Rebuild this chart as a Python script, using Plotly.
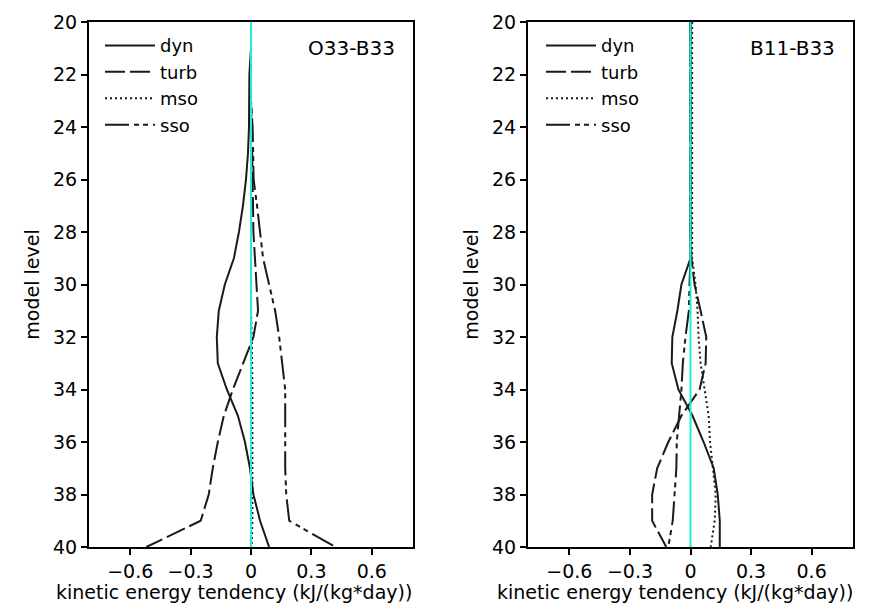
import plotly.graph_objects as go

# model levels 20..40 (y axis, reversed)
levels = list(range(20, 41))

# O33-B33 panel
dyn_o33 = [0, 0, -0.008, -0.008, -0.01, -0.015, -0.025, -0.04, -0.06, -0.085, -0.13,
           -0.16, -0.17, -0.165, -0.12, -0.065, -0.03, -0.005, 0.012, 0.045, 0.09]
turb_o33 = [0, 0, 0, 0, 0.004, 0.005, 0.008, 0.01, 0.012, 0.02, 0.03,
            0.035, 0.012, -0.04, -0.09, -0.135, -0.165, -0.19, -0.21, -0.25, -0.52]
mso_o33 = [0, 0, 0, 0, 0, 0, 0, 0, 0, 0, 0,
           0, 0.004, 0.007, 0.007, 0.007, 0.007, 0.007, 0.007, 0.007, 0.003]
sso_o33 = [0, 0, 0, 0, 0.008, 0.01, 0.013, 0.03, 0.045, 0.06, 0.09,
           0.12, 0.14, 0.155, 0.17, 0.17, 0.17, 0.17, 0.175, 0.19, 0.42]

# B11-B33 panel
dyn_b11 = [0, 0, 0, 0, 0, 0, 0, 0, 0, 0, -0.045,
           -0.065, -0.09, -0.093, -0.06, 0.01, 0.065, 0.115, 0.135, 0.145, 0.145]
turb_b11 = [0, 0, 0, 0, 0, 0, 0, 0, 0, 0.005, 0.02,
            0.05, 0.078, 0.075, 0.045, -0.045, -0.11, -0.165, -0.19, -0.19, -0.12]
mso_b11 = [0.008, 0.008, 0.008, 0.008, 0.008, 0.008, 0.008, 0.008, 0.008, 0.008, 0.025,
           0.035, 0.04, 0.05, 0.07, 0.09, 0.097, 0.11, 0.125, 0.12, 0.1]
sso_b11 = [0, 0, 0, 0, 0, 0, 0, 0, 0, 0, -0.005,
           -0.008, -0.025, -0.038, -0.045, -0.055, -0.068, -0.07, -0.078, -0.088, -0.11]

panel_labels = ["O33-B33", "B11-B33"]
x_title = "kinetic energy tendency (kJ/(kg*day))"
x_tickvals = [-0.6, -0.3, 0, 0.3, 0.6]
x_ticktext = ["\u22120.6", "\u22120.3", "0", "0.3", "0.6"]
y_tickvals = list(range(20, 41, 2))

FONT = "DejaVu Sans"
INK = "#1a1a1a"
CYAN = "#22ecd8"
STYLES = {
    "dyn": "solid",
    "turb": "20px,5px",
    "mso": "2px,3px",
    "sso": "24px,5px,5px,4px,5px,5px",
}

# the page body adds an 8px margin, so the figure is offset by 8px in the window
W, H = 874, 599

fig = go.Figure()

panels = [
    ("x", "y", "legend", {"dyn": dyn_o33, "turb": turb_o33, "mso": mso_o33, "sso": sso_o33}),
    ("x2", "y2", "legend2", {"dyn": dyn_b11, "turb": turb_b11, "mso": mso_b11, "sso": sso_b11}),
]
for xa, ya, leg, series in panels:
    for name, vals in series.items():
        fig.add_trace(go.Scatter(
            x=vals, y=levels, name=name, mode="lines",
            line=dict(color=INK, width=2, dash=STYLES[name]),
            xaxis=xa, yaxis=ya, legend=leg,
        ))

axis_common = dict(
    showline=True, linecolor="black", linewidth=2, mirror=True,
    showgrid=False, zeroline=False,
    ticks="outside", ticklen=6, tickwidth=2, tickcolor="black",
    tickfont=dict(family=FONT, size=19, color="black"),
    automargin=False,
)
xcommon = dict(
    range=[-0.805, 0.805], tickvals=x_tickvals, ticktext=x_ticktext,
    **axis_common,
)
ycommon = dict(
    range=[40, 20], tickvals=y_tickvals,
    title=dict(text="model level", font=dict(family=FONT, size=19, color="black"),
               standoff=8),
    **axis_common,
)

legend_common = dict(
    bgcolor="rgba(0,0,0,0)", borderwidth=0, xanchor="left", yanchor="top",
    font=dict(family=FONT, size=18, color="black"), itemwidth=50,
    tracegroupgap=0,
)

fig.update_layout(
    width=W, height=H,
    paper_bgcolor="white", plot_bgcolor="white",
    margin=dict(l=0, r=0, t=14, b=60),
    xaxis=dict(domain=[81 / W, 405 / W], anchor="y", **xcommon),
    yaxis=dict(domain=[0, 1], anchor="x", **ycommon),
    xaxis2=dict(domain=[520 / W, 845 / W], anchor="y2", **xcommon),
    yaxis2=dict(domain=[0, 1], anchor="x2", **ycommon),
    legend=dict(x=92 / W, y=0.99, **legend_common),
    legend2=dict(x=533 / W, y=0.99, **legend_common),
    showlegend=True,
)

for xa, label, cx in zip(["x", "x2"], panel_labels, [226, 667]):
    fig.add_annotation(
        text=label, xref=f"{xa} domain", yref="paper", x=0.95, y=0.95,
        xanchor="right", yanchor="middle", showarrow=False,
        font=dict(family=FONT, size=20, color="black"),
    )
    # x-axis title written as annotation so it can sit below the tick labels
    fig.add_annotation(
        text=x_title, xref="paper", yref="paper", x=cx / W, y=-45 / 525,
        xanchor="center", yanchor="middle", showarrow=False,
        font=dict(family=FONT, size=19, color="black"),
    )
    fig.add_shape(
        type="line", xref=xa, yref=f"{xa.replace('x', 'y')} domain",
        x0=0, x1=0, y0=0, y1=1, layer="above",
        line=dict(color=CYAN, width=2),
    )

fig.write_html("out.html")
